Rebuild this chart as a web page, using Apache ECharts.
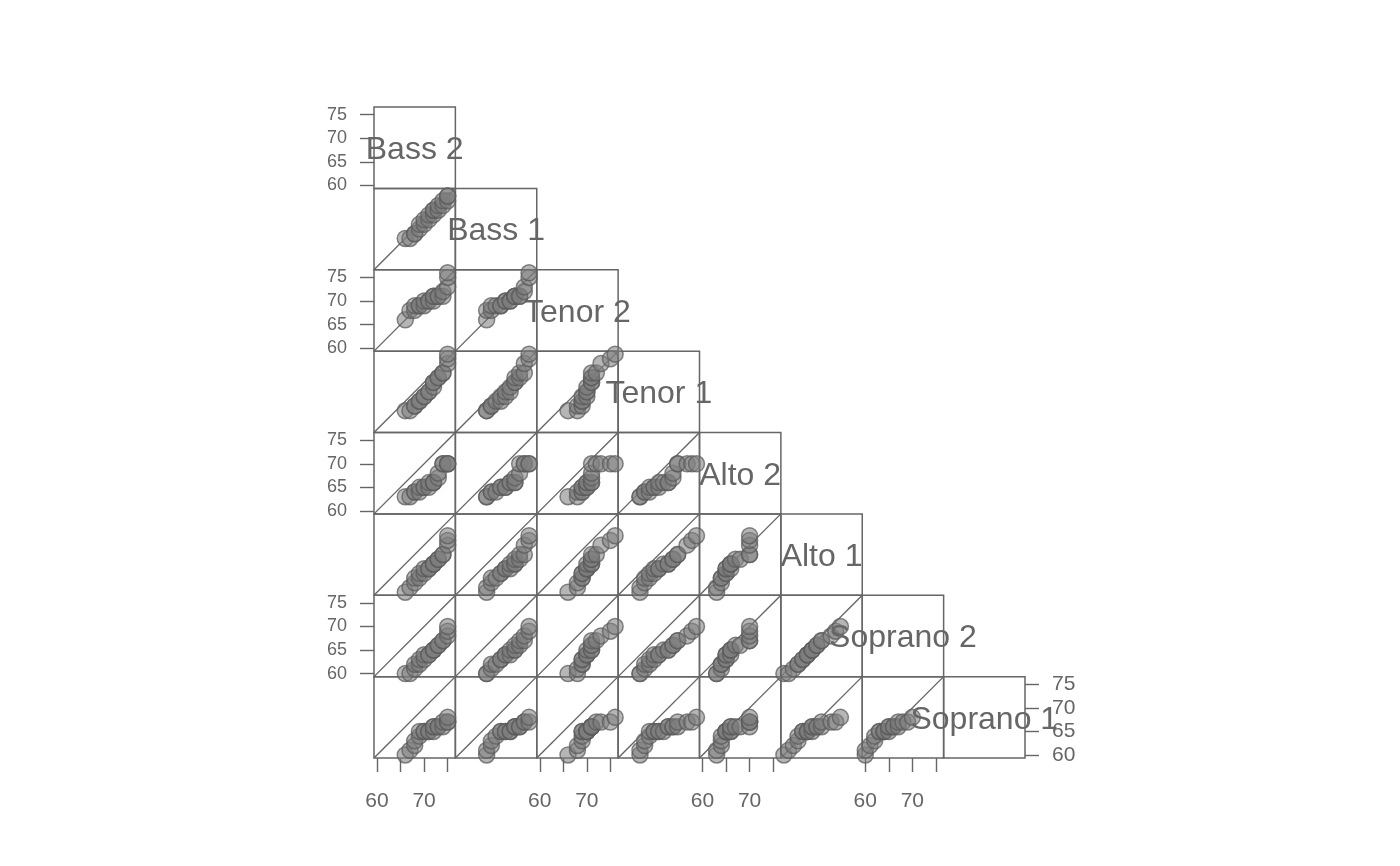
<!DOCTYPE html>
<html>
<head>
<meta charset="utf-8">
<script src="https://cdn.jsdelivr.net/npm/echarts@6/dist/echarts.min.js"></script>
<style>
html,body{margin:0;padding:0;background:#ffffff;}
#chart{width:1400px;height:866px;}
</style>
</head>
<body>
<div id="chart"></div>
<script>
// ---- data (heights in inches, quantiles of each voice part) ----
const voiceParts = ['Bass 2', 'Bass 1', 'Tenor 2', 'Tenor 1', 'Alto 2', 'Alto 1', 'Soprano 2', 'Soprano 1'];
const bass2    = [66, 67, 68, 68, 69, 69, 70, 70, 71, 71, 72, 72, 72, 73, 73, 74, 74, 75, 75, 75];
const bass1    = [66, 66, 67, 67, 68, 69, 69, 70, 70, 71, 71, 72, 72, 72, 73, 73, 74, 74, 75, 75];
const tenor2   = [66, 68, 68, 69, 69, 69, 69, 70, 70, 70, 70, 71, 71, 71, 71, 71, 72, 73, 75, 76];
const tenor1   = [64, 64, 65, 65, 66, 66, 67, 67, 68, 68, 69, 70, 70, 71, 71, 72, 72, 74, 75, 76];
const alto2    = [63, 63, 64, 64, 64, 65, 65, 65, 65, 66, 66, 66, 66, 67, 68, 70, 70, 70, 70, 70];
const alto1    = [60, 61, 62, 63, 63, 64, 64, 65, 65, 65, 66, 66, 66, 67, 67, 68, 68, 70, 71, 72];
const soprano2 = [60, 60, 61, 62, 62, 63, 63, 64, 64, 64, 65, 65, 65, 66, 66, 67, 67, 68, 69, 70];
const soprano1 = [60, 61, 62, 63, 64, 65, 65, 65, 65, 65, 65, 66, 66, 66, 66, 66, 67, 67, 67, 68];

const tickValues   = [60, 65, 70, 75];
const xLabelValues = [60, 70];
const yLabelValues = [60, 65, 70, 75];

// ---- layout / style ----
const AXIS_MIN = 59.36, AXIS_MAX = 76.64;
const LEFT0 = 374, TOP0 = 107, CELL = 81.375;
const INK = '#666666';
const FONT = '"Liberation Sans", Arial, Helvetica, sans-serif';

const partValues = [bass2, bass1, tenor2, tenor1, alto2, alto1, soprano2, soprano1];

const grids = [], xAxes = [], yAxes = [], series = [], graphics = [];

for (let i = 0; i < voiceParts.length; i++) {
  for (let j = 0; j <= i; j++) {
    const g = grids.length;
    grids.push({
      left: LEFT0 + j * CELL, top: TOP0 + i * CELL, width: CELL, height: CELL,
      show: true, borderColor: INK, borderWidth: 1.5, backgroundColor: 'rgba(0,0,0,0)'
    });
    const showX = (i === voiceParts.length - 1) && (j % 2 === 0) && j < i;
    const showYL = (j === 0) && (i % 2 === 0);
    const showYR = (i === voiceParts.length - 1) && (j === i);
    xAxes.push({
      type: 'value', gridIndex: g, min: AXIS_MIN, max: AXIS_MAX, show: showX, position: 'bottom',
      axisLine: { show: false }, splitLine: { show: false },
      axisTick: { show: true, length: 14, lineStyle: { color: INK, width: 1.4 }, customValues: tickValues },
      axisLabel: { show: true, customValues: xLabelValues, margin: 33, color: INK, fontSize: 21, fontFamily: FONT }
    });
    yAxes.push({
      type: 'value', gridIndex: g, min: AXIS_MIN, max: AXIS_MAX, show: showYL || showYR,
      position: showYR ? 'right' : 'left',
      axisLine: { show: false }, splitLine: { show: false },
      axisTick: { show: true, length: 14, lineStyle: { color: INK, width: 1.4 }, customValues: tickValues },
      axisLabel: { show: true, customValues: yLabelValues, margin: 27, color: INK,
                   fontSize: showYR ? 21 : 18, fontFamily: FONT }
    });
    if (i !== j) {
      const xs = partValues[j], ys = partValues[i];
      series.push({
        type: 'line', xAxisIndex: g, yAxisIndex: g, silent: true, symbol: 'none', animation: false,
        data: [[AXIS_MIN, AXIS_MIN], [AXIS_MAX, AXIS_MAX]],
        lineStyle: { color: INK, width: 1.4 }, z: 2
      });
      series.push({
        type: 'scatter', xAxisIndex: g, yAxisIndex: g, clip: false, animation: false, silent: true,
        symbol: 'circle', symbolSize: 16,
        data: xs.map((x, k) => [x, ys[k]]),
        itemStyle: { color: 'rgba(125,125,125,0.7)', borderColor: 'rgba(90,90,90,0.9)', borderWidth: 1.5 },
        z: 3
      });
    } else {
      graphics.push({
        type: 'text', z: 100,
        x: LEFT0 + j * CELL + CELL / 2, y: TOP0 + i * CELL + CELL / 2 + 2.5,
        style: { text: voiceParts[i], fill: INK, font: '32px ' + FONT, align: 'center', verticalAlign: 'middle' }
      });
    }
  }
}

const chart = echarts.init(document.getElementById('chart'), null, { renderer: 'canvas' });
chart.setOption({
  backgroundColor: '#ffffff',
  animation: false,
  grid: grids, xAxis: xAxes, yAxis: yAxes, series: series, graphic: graphics
});
</script>
</body>
</html>
